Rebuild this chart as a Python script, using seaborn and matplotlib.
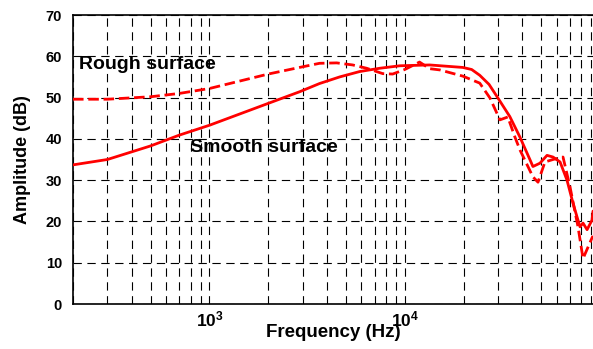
import numpy as np
import pandas as pd
import matplotlib
matplotlib.use('Agg')
import matplotlib.pyplot as plt
import matplotlib.ticker as mticker
import seaborn as sns

# smooth surface (solid)
smooth_hz = [200, 300, 500, 700, 1000, 2000, 2890, 3660, 4640, 5870, 7440, 9420,
             13400, 19800, 22000, 24200, 27000, 29700, 34500, 38900, 43800, 45300,
             49200, 53500, 57400, 62400, 67700, 72700, 76200, 78900, 81800, 85800,
             90900, 92000]
smooth_db = [33.7, 35.0, 38.3, 40.9, 43.3, 48.6, 51.4, 53.4, 55.0, 56.3, 57.1, 57.7,
             57.9, 57.3, 56.8, 55.4, 53.2, 50.2, 45.4, 40.4, 34.9, 33.3,
             34.1, 36.0, 35.6, 34.4, 30.0, 24.4, 21.1, 18.7, 19.6, 18.0,
             20.3, 22.5]

# rough surface (dashed)
rough_hz = [200, 300, 500, 700, 1000, 2000, 2890, 3660, 4480, 5410, 6380, 7710, 8670,
            10000, 11900, 13400, 15100, 19800, 24200, 27300, 30700, 33700, 36600,
            38900, 45300, 48100, 52200, 57400, 64600, 70200, 77100, 81800, 86800,
            90900, 92000]
rough_db = [49.6, 49.6, 50.2, 51.0, 52.2, 55.7, 57.3, 58.3, 58.4, 57.9, 57.1, 55.8, 55.7,
            56.8, 58.6, 57.0, 56.7, 55.2, 53.5, 49.9, 44.6, 45.3, 40.5,
            37.3, 30.8, 29.5, 34.4, 35.0, 35.6, 28.3, 18.7, 11.0, 13.8,
            16.0, 16.5]

sns.set_style('white')
plt.rcParams['font.family'] = ['Liberation Sans', 'DejaVu Sans']
plt.rcParams['font.weight'] = 'bold'
plt.rcParams['mathtext.fontset'] = 'custom'
plt.rcParams['mathtext.rm'] = 'Liberation Sans:bold'
plt.rcParams['mathtext.bf'] = 'Liberation Sans:bold'
for key in ['text.color', 'axes.labelcolor', 'xtick.color', 'ytick.color']:
    plt.rcParams[key] = 'black'

fig = plt.figure(figsize=(5.93, 3.49), dpi=100)
ax = fig.add_axes([73 / 593, 1 - 304 / 349, 1 - 73 / 593, (304 - 15) / 349])

smooth = pd.DataFrame({'f': smooth_hz, 'a': smooth_db})
rough = pd.DataFrame({'f': rough_hz, 'a': rough_db})
sns.lineplot(data=smooth, x='f', y='a', ax=ax, color='#ff0000', lw=2.0, zorder=3)
sns.lineplot(data=rough, x='f', y='a', ax=ax, color='#ff0000', lw=2.0, zorder=3,
             dashes=False, linestyle=(0, (3.8, 1.7)))

ax.set_xscale('log')
ax.set_xlim(200, 92000)
ax.set_ylim(0, 70)
ax.set_yticks(range(0, 71, 10))
ax.xaxis.set_major_locator(mticker.FixedLocator([1000, 10000]))
ax.xaxis.set_major_formatter(mticker.FuncFormatter(
    lambda v, pos: r'$\mathbf{10^{%d}}$' % round(np.log10(v))))
ax.xaxis.set_minor_locator(mticker.LogLocator(base=10, subs=np.arange(2, 10)))
ax.xaxis.set_minor_formatter(mticker.NullFormatter())

ax.grid(True, which='both', axis='x', color='black', lw=0.8, linestyle=(0, (7.5, 5)))
ax.grid(True, which='major', axis='y', color='black', lw=0.8, linestyle=(0, (7.5, 5)))
ax.set_axisbelow(True)

ax.tick_params(axis='x', which='both', direction='in', length=3, width=0.8,
               labelsize=12.5, pad=4)
ax.tick_params(axis='y', which='major', direction='in', length=0, labelsize=10.5, pad=8)
for lbl in ax.get_yticklabels():
    lbl.set_fontweight('bold')

for side in ['top', 'left', 'bottom']:
    ax.spines[side].set_color('black')
    ax.spines[side].set_linewidth(1.2)
ax.spines['right'].set_visible(False)

ax.set_xlabel('Frequency (Hz)', fontsize=13.5, fontweight='bold', labelpad=-4)
ax.set_ylabel('Amplitude (dB)', fontsize=13, fontweight='bold', labelpad=10)

ax.text(215, 57.9, 'Rough surface', fontsize=14, fontweight='bold', ha='left', va='center')
ax.text(790, 38.0, 'Smooth surface', fontsize=14, fontweight='bold', ha='left', va='center')

fig.savefig('out.png', dpi=100)
